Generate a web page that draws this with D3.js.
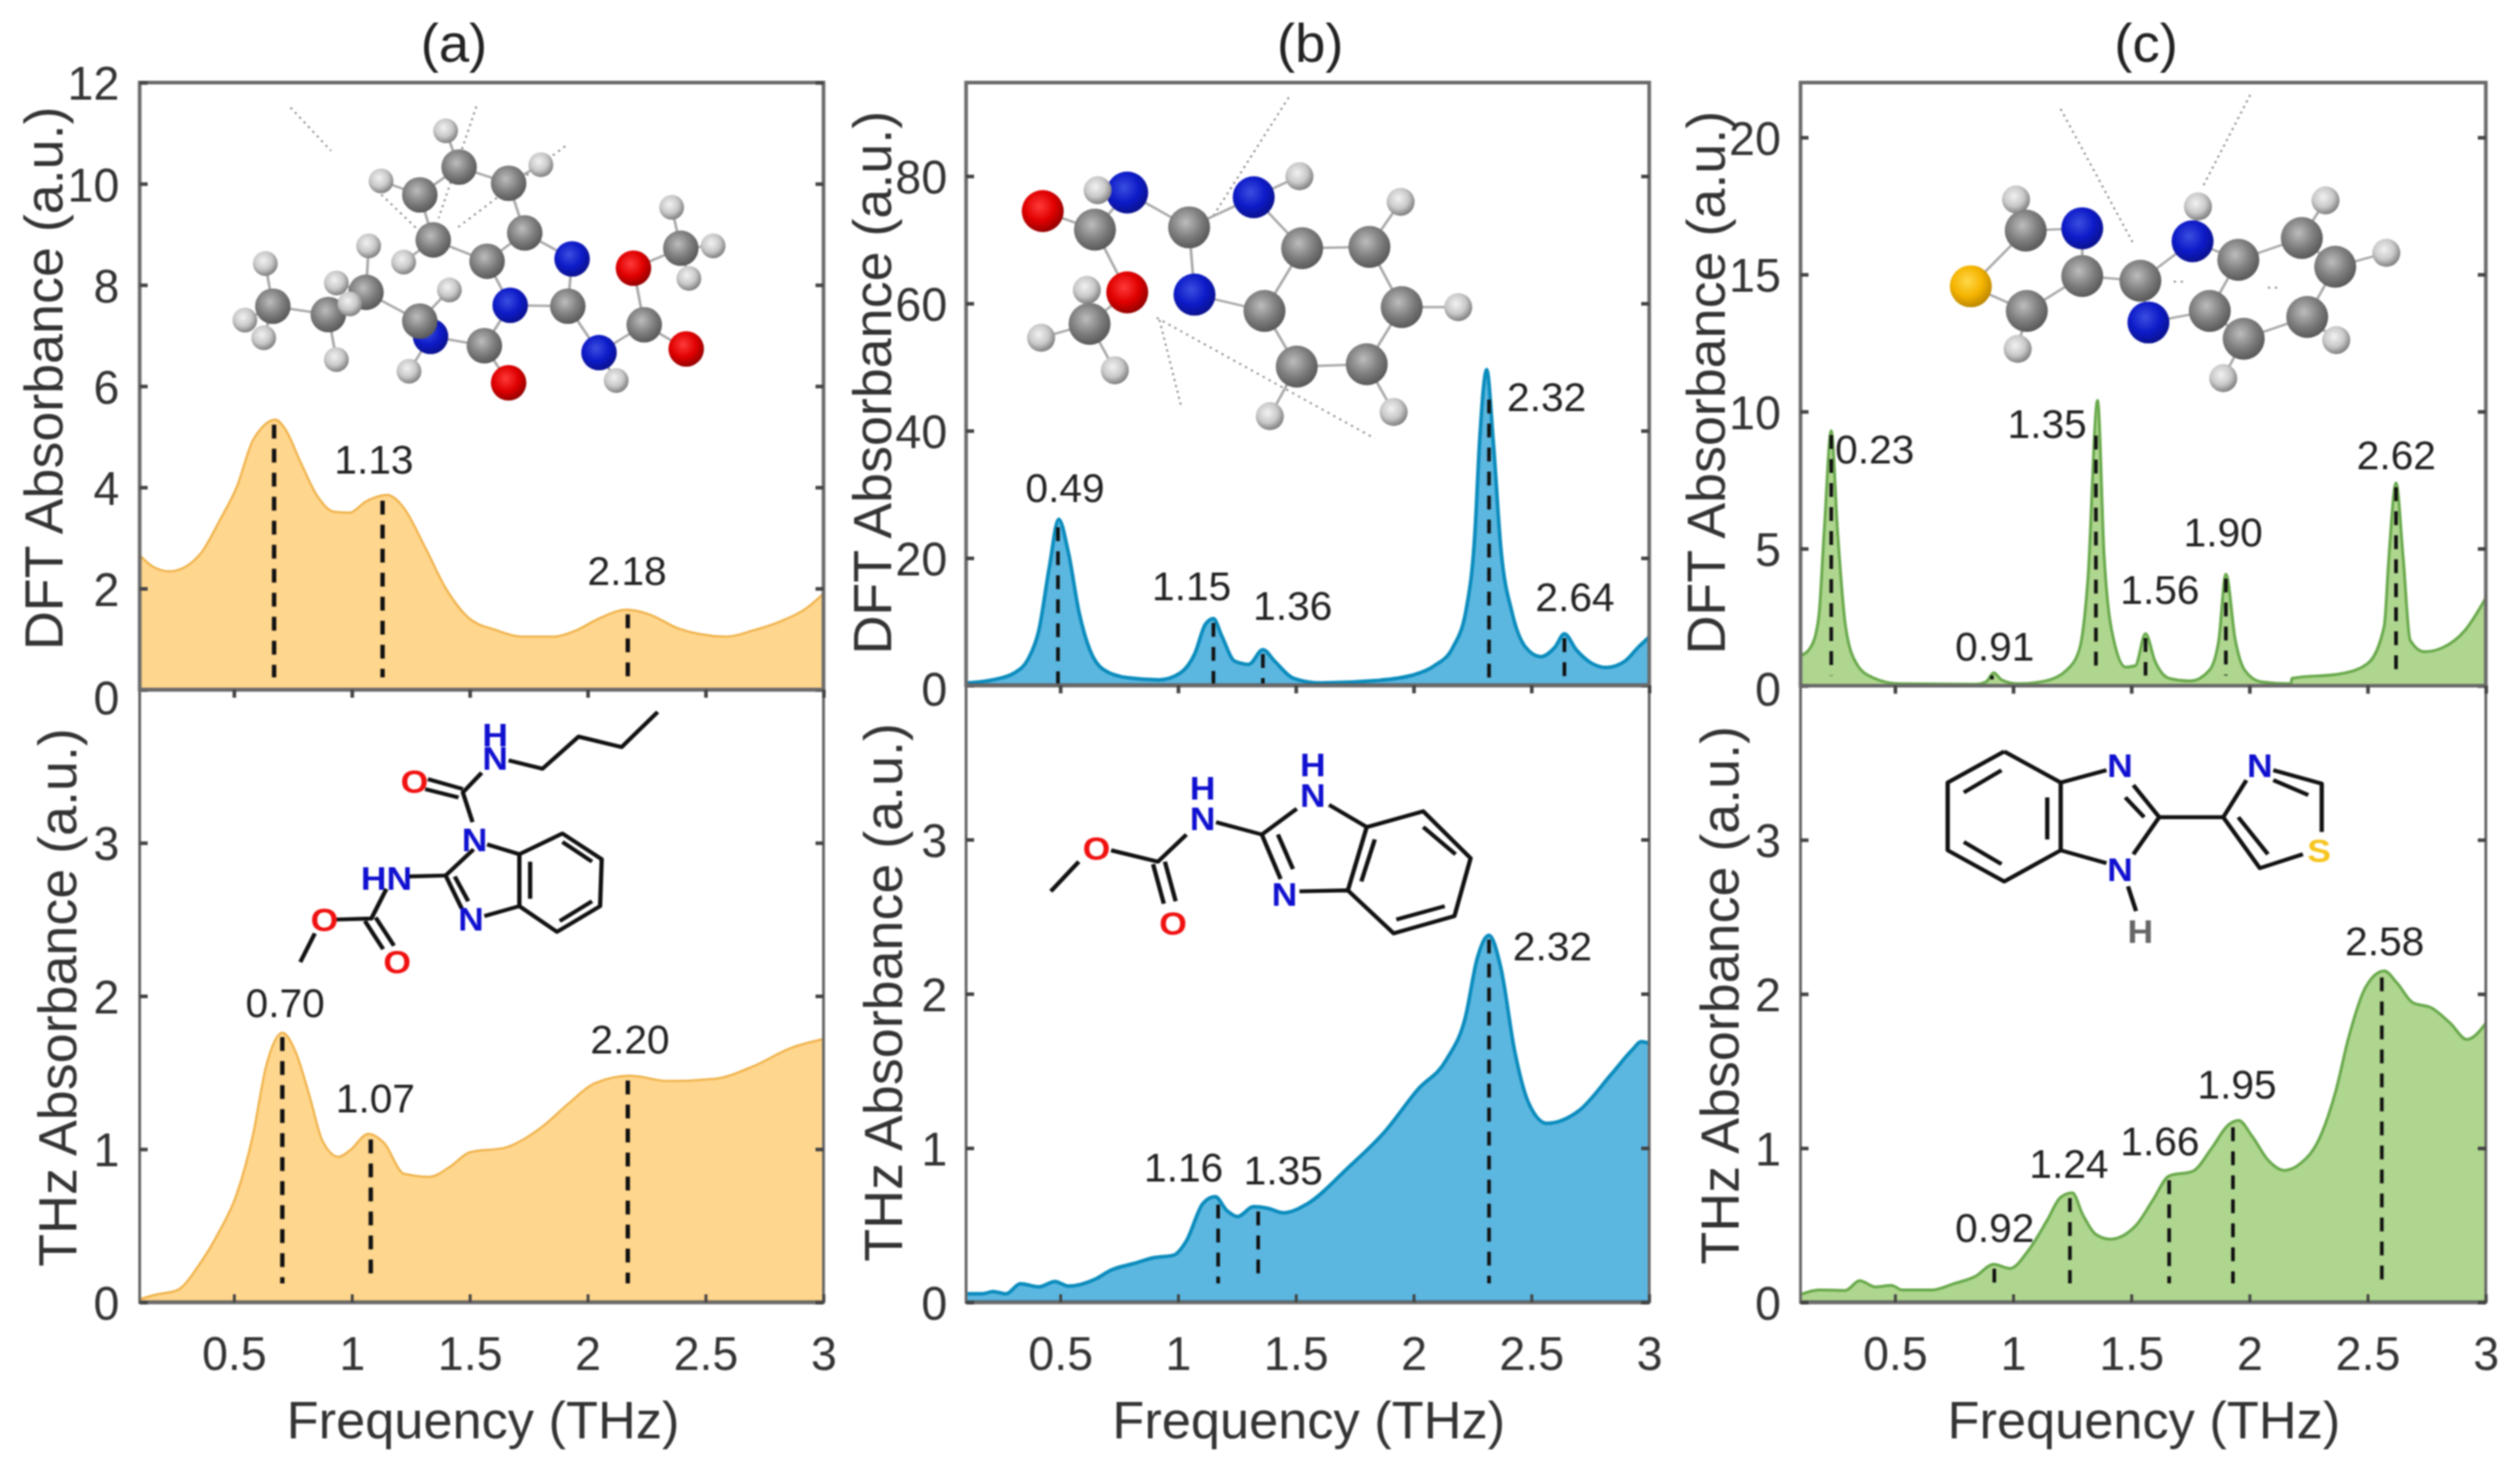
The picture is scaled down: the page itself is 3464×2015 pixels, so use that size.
<!DOCTYPE html>
<html><head><meta charset="utf-8">
<script src="https://cdn.jsdelivr.net/npm/d3@7"></script>
<style>
html,body{margin:0;padding:0;background:#fff}
svg{display:block;filter:blur(1.3px)}
text{font-family:"Liberation Sans",Arial,sans-serif;fill:#333}
</style></head><body>
<svg id="c" width="3464" height="2015" viewBox="0 0 3464 2015"></svg>
<script>
// ---------- data ----------
const aDftF=[.1,.157,.226,.294,.363,.442,.511,.58,.614,.675,.716,.785,.853,.922,.99,1.059,1.15,1.219,1.31,1.4,1.49,1.61,1.72,1.858,1.95,2.04,2.166,2.26,2.385,2.475,2.59,2.7,2.817,2.93,3];
const aDftV=[2.66,2.43,2.34,2.43,2.72,3.37,4,4.93,5.16,5.34,5.16,4.47,3.83,3.52,3.5,3.72,3.85,3.6,2.82,1.99,1.44,1.18,1.05,1.05,1.17,1.39,1.58,1.49,1.21,1.1,1.05,1.17,1.35,1.62,1.9];
const aThzF=[.1,.168,.26,.35,.44,.51,.58,.636,.705,.76,.82,.875,.944,.99,1.07,1.137,1.22,1.33,1.42,1.5,1.65,1.81,1.92,2.03,2.18,2.34,2.54,2.7,2.86,3];
const aThzV=[.02,.05,.08,.24,.47,.7,1.09,1.54,1.76,1.64,1.35,1.055,.95,.99,1.1,1.04,.84,.82,.89,.98,1.01,1.15,1.3,1.43,1.48,1.445,1.46,1.54,1.66,1.72];
const bDftF=[.1,.214,.305,.363,.408,.454,.493,.534,.58,.625,.682,.785,.92,1.01,1.07,1.116,1.15,1.185,1.24,1.3,1.36,1.41,1.49,1.607,1.835,1.995,2.087,2.167,2.224,2.26,2.28,2.31,2.338,2.37,2.418,2.475,2.54,2.6,2.64,2.69,2.75,2.817,2.897,2.954,3];
const bDftV=[.36,.87,1.96,4.1,8.5,18.7,26.1,20.9,11.4,5.6,2.5,1.2,.87,1.96,4.9,9.6,10.5,7.8,3.8,3.3,5.6,3.8,1.1,.36,.73,1.6,3.05,6,12.1,23.8,38.3,49.6,38.3,21.6,11.4,6,4.5,6,8.1,5.6,3.6,2.8,3.8,6,7.6];
const bThzF=[.1,.17,.214,.27,.33,.41,.477,.534,.648,.717,.808,.9,.98,1.036,1.105,1.157,1.207,1.253,1.32,1.38,1.447,1.55,1.72,1.88,2.018,2.14,2.22,2.27,2.32,2.37,2.43,2.486,2.566,2.7,2.84,2.93,2.965,3];
const bThzV=[.055,.055,.07,.055,.12,.1,.135,.105,.15,.21,.25,.29,.305,.4,.64,.685,.595,.556,.62,.61,.58,.64,.87,1.11,1.38,1.575,1.85,2.23,2.38,2.17,1.62,1.3,1.16,1.24,1.48,1.64,1.69,1.68];
const cDftF=[.1,.143,.177,.2,.23,.257,.29,.337,.405,.52,.84,.885,.918,.95,1.02,1.134,1.225,1.28,1.316,1.357,1.385,1.43,1.476,1.517,1.56,1.6,1.66,1.75,1.83,1.87,1.9,1.94,1.98,2.05,2.175,2.18,2.387,2.5,2.57,2.59,2.62,2.65,2.68,2.74,2.82,2.91,3];
const cDftV=[1.1,1.4,2.5,5.6,9.3,5.6,2.2,.8,.3,.07,.05,.14,.47,.22,.07,.17,.56,1.32,3.86,10.4,4.7,1.5,.68,.73,1.9,.9,.27,.17,.56,1.66,4.07,1.66,.56,.14,.07,.27,.44,.81,2.17,4.7,7.4,4.7,1.66,1.24,1.4,2,3.2];
const cThzF=[.1,.18,.29,.35,.417,.485,.53,.656,.747,.838,.918,.986,1.066,1.145,1.2,1.25,1.295,1.35,1.41,1.52,1.59,1.66,1.76,1.84,1.91,1.954,2.01,2.08,2.148,2.215,2.295,2.365,2.42,2.49,2.57,2.625,2.69,2.77,2.85,2.92,3];
const cThzV=[.05,.08,.077,.14,.1,.11,.08,.08,.12,.167,.247,.22,.34,.535,.68,.71,.567,.44,.41,.5,.66,.82,.85,1,1.15,1.18,1.08,.92,.856,.9,1.06,1.37,1.72,2.04,2.15,2.07,1.945,1.91,1.81,1.705,1.81];

const xTicks=[.5,1,1.5,2,2.5,3];
const xTickLabels=["0.5","1","1.5","2","2.5","3"];
const aDftTicks=[0,2,4,6,8,10,12], bDftTicks=[0,20,40,60,80], cDftTicks=[0,5,10,15,20], thzTicks=[0,1,2,3];
const titles=["(a)","(b)","(c)"];
const aDftPeaks=[.67,1.13,2.17], aThzPeaks=[.705,1.08,2.17];
const bDftPeaks=[.49,1.15,1.36,2.32,2.64], bThzPeaks=[1.17,1.34,2.32];
const cDftPeaks=[.23,.91,1.35,1.56,1.9,2.62], cThzPeaks=[.92,1.24,1.66,1.93,2.56];

// ---------- layout & styling ----------
const colours=[{fill:"#ffd68d",line:"#efb24a"},{fill:"#5cb7e0",line:"#0b8cbd"},{fill:"#afd68f",line:"#69a94c"}];
const panels=[
 {x0:192,x1:1132,topB:948,dmax:12,dt:aDftTicks,dF:aDftF,dV:aDftV,tF:aThzF,tV:aThzV,dP:aDftPeaks,tP:aThzPeaks,thzTop:4,tx:624,pad:28,gap:17,zero:13,
  dLab:[59,520],tLab:[78,1371],fx:664,
  dNotes:[["1.13",514,631],["2.18",862,784]],tNotes:[["0.70",392,1378],["1.07",516,1509],["2.20",866,1428]],lw:3,vw:6},
 {x0:1328,x1:2267,topB:942,dmax:94.7,dt:bDftTicks,dF:bDftF,dV:bDftV,tF:bThzF,tV:bThzV,dP:bDftPeaks,tP:bThzPeaks,thzTop:4,tx:1801,pad:26,gap:2,zero:7,
  dLab:[1198,526],tLab:[1213,1364],fx:1799,
  dNotes:[["0.49",1464,670],["1.15",1638,805],["1.36",1777,832],["2.32",2126,545],["2.64",2165,820]],tNotes:[["1.16",1627,1604],["1.35",1764,1608],["2.32",2134,1300]],lw:5,vw:5},
 {x0:2475,x1:3417,topB:942.5,dmax:22,dt:cDftTicks,dF:cDftF,dV:cDftV,tF:cThzF,tV:cThzV,dP:cDftPeaks,tP:cThzPeaks,thzTop:4,tx:2950,pad:27,gap:14,zero:7,
  dLab:[2344,526],tLab:[2363,1368],fx:2947,
  dNotes:[["0.23",2577,617],["0.91",2742,888],["1.35",2814,582],["1.56",2969,810],["1.90",3056,731],["2.62",3294,625]],
  tNotes:[["0.92",2742,1687],["1.24",2844,1599],["1.66",2969,1568],["1.95",3075,1490],["2.58",3278,1293]],lw:4,vw:5}
];
const yTop=113.5,yBottom=1790,tickLen=11;
const svg=d3.select("#c");
const defs=svg.append("defs");
function grad(id,c0,c1,c2){
  const g=defs.append("radialGradient").attr("id",id).attr("cx","0.42").attr("cy","0.38").attr("r","0.65");
  g.append("stop").attr("offset","0").attr("stop-color",c0);
  g.append("stop").attr("offset","0.55").attr("stop-color",c1);
  g.append("stop").attr("offset","1").attr("stop-color",c2);
}
grad("gC","#bdbdbd","#7f7f7f","#555");
grad("gH","#f2f2f2","#c9c9c9","#777");
grad("gN","#3a4fe0","#0d1bc8","#0a108a");
grad("gO","#ff3a3a","#e00000","#8e0000");
grad("gS","#ffd84a","#f5b400","#b88300");
const atomFill={C:"url(#gC)",H:"url(#gH)",N:"url(#gN)",O:"url(#gO)",S:"url(#gS)"};

function valueAt(f,F,V){
  const i=Math.min(d3.bisectLeft(F,f),F.length-1);
  if(i===0) return V[0];
  const t=(f-F[i-1])/(F[i]-F[i-1]);
  return V[i-1]+t*(V[i]-V[i-1]);
}
function drawPanel(p,k,yT,yB,ymax,ticks,F,V,peaks,notes,isTop){
  const col=colours[k];
  const x=d3.scaleLinear().domain([.1,3]).range([p.x0,p.x1]);
  const y=d3.scaleLinear().domain([0,ymax]).range([yB,yT]);
  const g=svg.append("g");
  const pts=F.map((f,i)=>[f,V[i]]);
  g.append("path").datum(pts).attr("fill",col.fill)
    .attr("d",d3.area().x(d=>x(d[0])).y0(y(0)).y1(d=>y(d[1])).curve(d3.curveMonotoneX));
  g.append("path").datum(pts).attr("fill","none").attr("stroke",col.line).attr("stroke-width",p.lw)
    .attr("d",d3.line().x(d=>x(d[0])).y(d=>y(d[1])).curve(d3.curveMonotoneX));
  const gap=isTop?p.gap:26;
  g.selectAll("line.v").data(peaks).join("line").attr("class","v")
    .attr("x1",d=>x(d)).attr("x2",d=>x(d))
    .attr("y1",d=>y(valueAt(d,F,V))+6).attr("y2",yB-gap)
    .attr("stroke","#111").attr("stroke-width",p.vw).attr("stroke-dasharray","19 14");
  // baseline
  g.append("line").attr("x1",p.x0).attr("x2",p.x1).attr("y1",yB).attr("y2",yB).attr("stroke",isTop&&k===0?"#777":"#2c2c2c").attr("stroke-width",5);
  // frame
  g.append("rect").attr("x",p.x0).attr("y",yT).attr("width",p.x1-p.x0).attr("height",yB-yT)
    .attr("fill","none").attr("stroke","#6a6a6a").attr("stroke-width",isTop?5:4);
  // axes
  const left=g.append("g").attr("transform",`translate(${p.x0},0)`)
    .call(d3.axisLeft(y).tickValues(ticks).tickFormat(d3.format("d")).tickSizeInner(-tickLen).tickSizeOuter(0).tickPadding(p.pad));
  const right=g.append("g").attr("transform",`translate(${p.x1},0)`)
    .call(d3.axisRight(y).tickValues(ticks).tickFormat("").tickSizeInner(-tickLen).tickSizeOuter(0));
  [left,right].forEach(a=>{a.select(".domain").remove();a.selectAll("line").attr("stroke","#444").attr("stroke-width",5);});
  left.selectAll("text").style("font-size","64px").attr("fill","#333")
    .attr("transform",d=>`translate(0,${d===0&&isTop?p.zero:3})`);
  // x axis
  if(!isTop){
    const tg=g.append("g").attr("transform",`translate(0,${yT})`)
      .call(d3.axisBottom(x).tickValues(xTicks).tickFormat("").tickSizeInner(tickLen).tickSizeOuter(0));
    tg.select(".domain").remove();tg.selectAll("line").attr("stroke","#444").attr("stroke-width",5);
    const xa=g.append("g").attr("transform",`translate(0,${yB})`)
      .call(d3.axisBottom(x).tickValues(xTicks).tickFormat((d,i)=>xTickLabels[i]).tickSizeInner(-tickLen).tickSizeOuter(0).tickPadding(48));
    xa.select(".domain").remove();
    xa.selectAll("line").attr("stroke","#444").attr("stroke-width",4);
    xa.selectAll("text").style("font-size","64px").attr("fill","#333");
  }
  // annotations
  g.selectAll("text.n").data(notes).join("text").attr("class","n")
    .attr("x",d=>d[1]).attr("y",d=>d[2]).attr("text-anchor","middle").attr("dy","0.36em")
    .style("font-size","56px").style("fill","#222").text(d=>d[0]);
}
panels.forEach((p,k)=>{
  drawPanel(p,k,yTop,p.topB,p.dmax,p.dt,p.dF,p.dV,p.dP,p.dNotes,true);
  drawPanel(p,k,p.topB,yBottom,p.thzTop,thzTicks,p.tF,p.tV,p.tP,p.tNotes,false);
  svg.append("text").attr("x",p.tx).attr("y",85).attr("text-anchor","middle").style("font-size","75px").style("fill","#222").text(titles[k]);
  svg.append("text").attr("x",p.fx).attr("y",1977).attr("text-anchor","middle").style("font-size","72px").text("Frequency (THz)");
  [[p.dLab,"DFT Absorbance (a.u.)"],[p.tLab,"THz Absorbance (a.u.)"]].forEach(([l,t])=>{
    svg.append("text").attr("transform",`translate(${l[0]},${l[1]}) rotate(-90)`).attr("text-anchor","middle").attr("dy","0.36em")
      .style("font-size","74px").text(t);
  });
});

// ---------- molecule illustrations (crop units of the reference) ----------
const SX=1/1.3517,SYT=1/1.568,SYB=1/1.472;
function ballStick(ox,atoms,dots,rC,rH,cut,extra,skip){
  const g=svg.append("g").attr("transform",`translate(${ox},0) scale(${SX},${SYT})`);
  g.selectAll("line.d").data(dots).join("line").attr("class","d")
    .attr("x1",d=>d[0]).attr("y1",d=>d[1]).attr("x2",d=>d[2]).attr("y2",d=>d[3])
    .attr("stroke","#777").attr("stroke-width",3.5).attr("stroke-dasharray","4 9");
  const bonds=[];
  const heavy=atoms.filter(a=>a[2]!=="H");
  atoms.forEach((a,i)=>{
    if(a[2]==="H"){
      const n=d3.least(heavy,h=>Math.hypot(a[0]-h[0],a[1]-h[1]));
      bonds.push([a,n]);
    } else atoms.forEach((b,j)=>{
      if(j<=i||b[2]==="H")return;
      if(skip.some(s=>s[0]===i&&s[1]===j))return;
      if(Math.hypot(a[0]-b[0],a[1]-b[1])<cut)bonds.push([a,b]);
    });
  });
  extra.forEach(e=>bonds.push([atoms[e[0]],atoms[e[1]]]));
  g.selectAll("line.b").data(bonds).join("line").attr("class","b")
    .attr("x1",d=>d[0][0]).attr("y1",d=>d[0][1]).attr("x2",d=>d[1][0]).attr("y2",d=>d[1][1])
    .attr("stroke","#a8a8a8").attr("stroke-width",5);
  g.selectAll("ellipse").data(atoms).join("ellipse")
    .attr("cx",d=>d[0]).attr("cy",d=>d[1])
    .attr("rx",d=>d[2]==="H"?rH:rC).attr("ry",d=>(d[2]==="H"?rH:rC)*1.16)
    .attr("fill",d=>atomFill[d[2]]);
}
const molA=[[800,725,"N"],[507,660,"C"],[610,678,"C"],[680,630,"C"],[780,692,"C"],[900,745,"C"],[1055,660,"C"],[1197,700,"C"],[1265,535,"C"],[905,563,"C"],[975,502,"C"],[805,517,"C"],[780,420,"C"],[853,360,"C"],[945,395,"C"],
 [1063,558,"N"],[948,658,"N"],[1113,760,"N"],[1177,578,"O"],[1275,752,"O"],[945,825,"O"],
 [493,568,"H"],[455,690,"H"],[490,728,"H"],[625,775,"H"],[625,610,"H"],[650,655,"H"],[685,530,"H"],[750,565,"H"],[835,625,"H"],[760,800,"H"],[1145,820,"H"],[1248,447,"H"],[1325,530,"H"],[1280,600,"H"],[708,390,"H"],[828,282,"H"],[1005,355,"H"]];
const dotsA=[[540,232,615,325],[885,230,815,470],[1050,315,845,495],[700,410,790,510]];
const molB=[[470,698,"C"],[383,455,"O"],[540,630,"O"],[540,415,"N"],[775,425,"N"],[665,635,"N"],[480,495,"C"],[655,490,"C"],[865,535,"C"],[990,532,"C"],[1050,662,"C"],[985,785,"C"],[855,790,"C"],[795,670,"C"],
 [485,410,"H"],[860,380,"H"],[1048,435,"H"],[1155,662,"H"],[1035,888,"H"],[805,897,"H"],[517,798,"H"],[380,728,"H"],[465,625,"H"]];
const dotsB=[[840,210,700,465],[595,685,1000,945],[600,690,640,875]];
const molC=[[553,617,"S"],[655,497,"C"],[760,595,"C"],[657,670,"C"],[868,605,"C"],[1050,560,"C"],[1168,513,"C"],[1230,575,"C"],[1178,683,"C"],[1060,730,"C"],[997,670,"C"],[760,492,"N"],[965,520,"N"],[883,695,"N"],
 [637,430,"H"],[640,752,"H"],[975,445,"H"],[1212,432,"H"],[1325,545,"H"],[1232,733,"H"],[1022,815,"H"]];
const dotsC=[[720,235,855,525],[1072,205,985,400],[930,607,955,607],[1105,620,1130,620]];
ballStick(0,molA,dotsA,33,23,125,[],[[15,18]]);
ballStick(1150,molB,dotsB,39,26,155,[],[[2,5]]);
ballStick(2300,molC,dotsC,39,26,131,[[0,1]],[[1,2]]);

function skeletal(ox,polys,labels){
  const g=svg.append("g").attr("transform",`translate(${ox},950) scale(${SX},${SYB})`);
  g.selectAll("polyline").data(polys).join("polyline")
    .attr("points",d=>d.map(q=>q.join(",")).join(" ")).attr("fill","none").attr("stroke","#111").attr("stroke-width",8)
    .attr("stroke-linejoin","round");
  g.selectAll("text").data(labels).join("text").attr("x",d=>d[1]).attr("y",d=>d[2]).attr("text-anchor","middle").attr("dy","0.36em")
    .style("font-size","66px").style("font-weight","bold").style("fill",d=>d[3]).text(d=>d[0]);
}
const blue="#1010d0",red="#f01010",yellow="#f7c51e",grey="#666";
skeletal(0,[
 [[1222,42],[1155,113],[1075,92],[1008,157],[945,140]],[[895,165],[860,205],[878,265]],[[860,198],[795,178]],[[852,215],[790,198]],
 [[880,320],[828,373],[858,440]],[[845,375],[870,425]],[[900,455],[965,435],[1035,487],[1115,435],[1118,340],[1045,288],[965,330],[905,310]],
 [[965,330],[965,435]],[[985,345],[985,420]],[[1045,305],[1100,345]],[[1100,425],[1040,465]],[[828,373],[755,375]],
 [[718,400],[690,460],[625,462]],[[678,465],[712,522]],[[698,458],[732,515]],[[585,490],[558,548]]
],[["H",920,88,blue],["N",920,135,blue],["O",770,183,red],["N",882,300,blue],["N",875,460,blue],["HN",718,378,blue],["O",603,462,red],["O",738,547,red]]);
skeletal(1150,[
 [[398,405],[450,345]],[[510,322],[597,345],[650,290]],[[588,350],[608,430]],[[610,345],[630,425]],[[705,265],[790,290],[855,238]],
 [[915,230],[985,275],[1090,243],[1178,338],[1148,455],[1035,490],[950,403],[860,405]],[[790,290],[825,380]],[[820,290],[848,360]],
 [[985,275],[950,403]],[[1000,300],[975,385]],[[1090,275],[1150,330]],[[1130,435],[1040,462]]
],[["H",680,195,blue],["N",680,258,blue],["O",483,318,red],["O",625,470,red],["H",885,148,blue],["N",885,210,blue],["N",832,410,blue]]);
skeletal(2300,[
 [[615,122],[720,185],[720,322],[615,385],[510,322],[510,185],[615,122]],[[540,205],[610,160]],[[695,215],[695,300]],[[540,305],[610,350]],
 [[720,185],[805,160]],[[720,322],[805,348]],[[855,190],[903,255],[855,330]],[[840,215],[875,255]],[[903,255],[1022,255],[1065,180]],
 [[1115,160],[1205,187],[1205,285]],[[1115,180],[1180,210]],[[1022,255],[1090,358],[1170,330]],[[1050,255],[1105,330]],[[845,395],[860,445]]
],[["N",830,150,blue],["N",830,360,blue],["H",868,485,grey],["N",1090,150,blue],["S",1200,322,yellow]]);
</script>
</body></html>
